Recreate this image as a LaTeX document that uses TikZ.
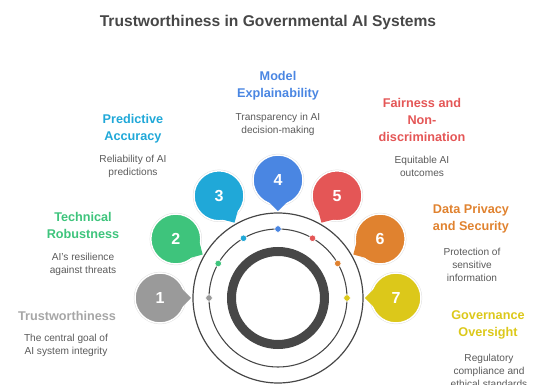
\documentclass[tikz,border=0pt]{standalone}
\usepackage{fontspec}
\setmainfont{Liberation Sans}
\usetikzlibrary{shapes}

\definecolor{grayone}{HTML}{9A9A9A}
\definecolor{greentwo}{HTML}{3EC47C}
\definecolor{cyanthree}{HTML}{20A8D8}
\definecolor{bluefour}{HTML}{4A86E2}
\definecolor{redfive}{HTML}{E45656}
\definecolor{orangesix}{HTML}{E0822F}
\definecolor{yellowseven}{HTML}{DCC81A}
\definecolor{ringgray}{HTML}{474747}
\definecolor{descgray}{HTML}{5A5A5A}

\tikzset{
  bubble/.style={circle,minimum size=37.5pt,inner sep=0,outer sep=0,text=white,
    font=\fontsize{12}{14}\selectfont\bfseries,
    preaction={draw=black!12,line width=1.8pt},draw=white,line width=1.1pt},
  heading/.style={align=center,font=\fontsize{9.5}{12.75}\selectfont\bfseries},
  desc/.style={align=center,text=descgray,font=\fontsize{7.6}{9.75}\selectfont},
  dot/.style={circle,minimum size=5pt,inner sep=0,draw=white,line width=0.5pt}
}

\begin{document}
\begin{tikzpicture}[x=0.75pt,y=0.75pt]
        \useasboundingbox(-278,-87)rectangle(255,298);
        \node(title)at(-10,276)[text=black!72,font=\fontsize{11.7}{14}\selectfont\bfseries]{Trustworthiness in Governmental AI Systems};
        % rings round the hub
        \node(hub)at(0,0)[circle,minimum size=127.5pt,draw=black!72,line width=0.9pt]{};
        \node(track)at(0,0)[circle,minimum size=103.5pt,draw=black!72,line width=0.8pt]{};
        \node(core)at(0,0)[circle,minimum size=69.75pt,draw=ringgray,line width=6.75pt]{};
        % dots on the track
        \node(p1)at(180:69)[dot,fill=grayone]{};
        \node(p2)at(150:69)[dot,fill=greentwo]{};
        \node(p3)at(120:69)[dot,fill=cyanthree]{};
        \node(p4)at(90:69)[dot,fill=bluefour]{};
        \node(p5)at(60:69)[dot,fill=redfive]{};
        \node(p6)at(30:69)[dot,fill=orangesix]{};
        \node(p7)at(0:69)[dot,fill=yellowseven]{};
        % numbered bubbles with their tails
        \node(b1)at(180:118)[bubble,fill=grayone]{1};
        \fill[grayone](172:102)--(180:87)--(188:102)--cycle;
        \node(b2)at(150:118)[bubble,fill=greentwo]{2};
        \fill[greentwo](142:102)--(150:87)--(158:102)--cycle;
        \node(b3)at(120:118)[bubble,fill=cyanthree]{3};
        \fill[cyanthree](112:102)--(120:87)--(128:102)--cycle;
        \node(b4)at(90:118)[bubble,fill=bluefour]{4};
        \fill[bluefour](82:102)--(90:87)--(98:102)--cycle;
        \node(b5)at(60:118)[bubble,fill=redfive]{5};
        \fill[redfive](52:102)--(60:87)--(68:102)--cycle;
        \node(b6)at(30:118)[bubble,fill=orangesix]{6};
        \fill[orangesix](22:102)--(30:87)--(38:102)--cycle;
        \node(b7)at(0:118)[bubble,fill=yellowseven]{7};
        \fill[yellowseven](-8:102)--(0:87)--(8:102)--cycle;
        % headings and descriptions
        \node(h1)at(-211,-18)[heading,text=black!35]{Trustworthiness};
        \node(d1)at(-212,-47)[desc]{The central goal of\\AI system integrity};
        \node(h2)at(-195,72.5)[heading,text=greentwo]{Technical\\Robustness};
        \node(d2)at(-195,33.5)[desc]{AI's resilience\\against threats};
        \node(h3)at(-145,169)[heading,text=cyanthree]{Predictive\\Accuracy};
        \node(d3)at(-145,131.5)[desc]{Reliability of AI\\predictions};
        \node(h4)at(0,212.5)[heading,text=bluefour]{Model\\Explainability};
        \node(d4)at(0,173.5)[desc]{Transparency in AI\\decision-making};
        \node(h5)at(144,178)[heading,text=redfive]{Fairness and\\Non-\\discrimination};
        \node(d5)at(144,131.5)[desc]{Equitable AI\\outcomes};
        \node(h6)at(193,79.5)[heading,text=orangesix]{Data Privacy\\and Security};
        \node(d6)at(194,33)[desc]{Protection of\\sensitive\\information};
        \node(h7)at(210,-26.5)[heading,text=yellowseven]{Governance\\Oversight};
        \node(d7)at(211,-73)[desc]{Regulatory\\compliance and\\ethical standards};
    \end{tikzpicture}
\end{document}
